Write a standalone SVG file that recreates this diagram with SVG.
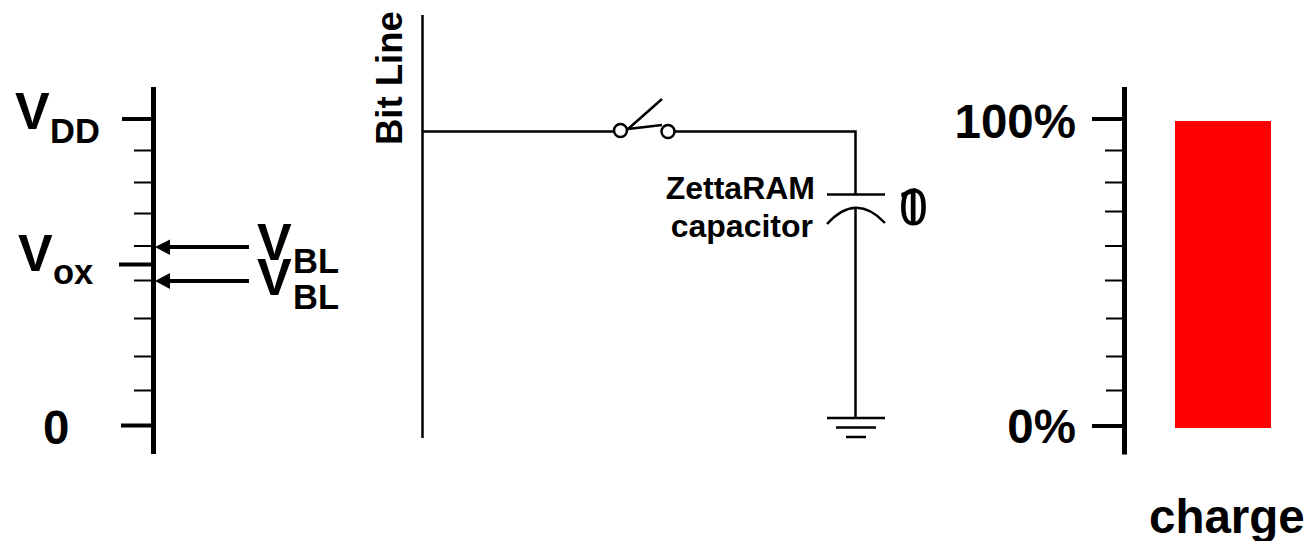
<svg xmlns="http://www.w3.org/2000/svg" width="1308" height="541" viewBox="0 0 1308 541">
<style>
text{font-family:"Liberation Sans",Arial,sans-serif;font-weight:700;fill:#000}
.l{font-size:52px}.m{font-size:34.500px}.c{font-size:32px}.p{font-size:47.500px}
.d{font-weight:400;font-size:52px}
.ax{stroke:#000;stroke-width:5;fill:none}
.maj{stroke:#000;stroke-width:4;fill:none}
.min{stroke:#000;stroke-width:2;fill:none}
.w{stroke:#000;stroke-width:2.5;fill:none}
.a{stroke:#000;stroke-width:4;fill:none}
</style>
<g id="voltage-axis">
<path class="ax" d="M153.500 87V454"/>
<path class="maj" d="M122 119H153M119 264.500H153M121 425.500H153"/>
<path class="min" d="M134 150.500H153M134 182.500H153M134 213.500H153M134 246H153M134 280.500H153M134 318.500H153M134 356.500H153M134 390.500H153"/>
<text class="l" x="15" y="129">V</text><text class="m" x="50" y="143">DD</text>
<text class="l" x="18" y="271">V</text><text class="m" x="53" y="284">ox</text>
<text class="p" x="43" y="444">0</text>
</g>
<g id="vbl-labels">
<text class="l" x="257" y="260">V</text><text class="m" x="293" y="273">BL</text>
<text class="l" x="257" y="295">V</text><text class="m" x="293" y="308.500">BL</text>
</g>
<g id="connectors">
<path class="a" d="M249 247H170"/>
<path class="a" d="M249 281H170"/>
<path d="M170 239.500V255L155 247ZM170 273V289L155 281Z" fill="#000"/>
<path class="w" d="M422.500 15V438M422.500 131.500H614M675 131.500H855.500V194.500M855.500 208V418"/>
</g>
<g id="bit-line"><text style="font-size:36.500px" transform="translate(402 145) rotate(-90)">Bit Line</text></g>
<g id="switch">
<circle cx="620.500" cy="130.500" r="6.500" fill="#fff" stroke="#000" stroke-width="2.500"/>
<circle cx="668" cy="131.500" r="6.500" fill="#fff" stroke="#000" stroke-width="2.500"/>
<path class="w" d="M628 129L662 99M628 129L662 125"/>
</g>
<g id="capacitor">
<path class="w" d="M827 194.500H885M827 224Q856 192 885 223"/>
<text class="c" x="815" y="199" text-anchor="end">ZettaRAM</text>
<text class="c" x="813" y="237" text-anchor="end">capacitor</text>
<text class="d" x="897" y="225" style="font-family:Roboto,sans-serif">1</text>
<text class="d" x="899" y="225">0</text>
</g>
<g id="ground"><path class="w" d="M827 418H885M836 427.500H876M846 437H866"/></g>
<g id="charge-axis">
<path class="ax" d="M1124.500 87V454.500"/>
<path class="maj" d="M1092 119H1124M1092 426H1124"/>
<path class="min" d="M1105 150.500H1124M1105 182.500H1124M1105 211.500H1124M1105 246H1124M1105 280.500H1124M1106 318.500H1124M1106 356.500H1124M1106 390.500H1124"/>
<text class="p" x="1076" y="138" text-anchor="end">100%</text>
<text class="p" x="1076" y="443" text-anchor="end">0%</text>
</g>
<rect id="charge-bar" x="1175" y="121" width="96" height="307" fill="#f00"/>
<text id="charge-label" class="p" x="1149" y="533">charge</text>
</svg>
